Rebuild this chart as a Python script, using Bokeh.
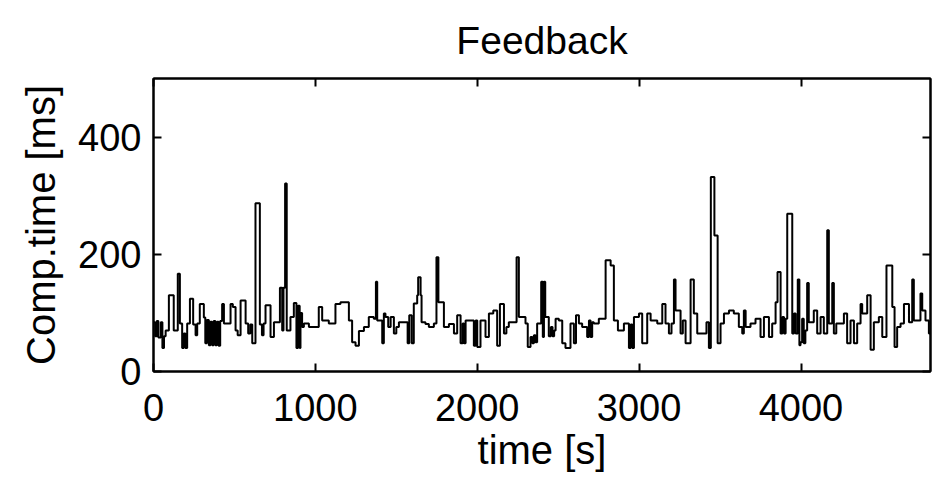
from bokeh.plotting import figure
from bokeh.models import Range1d, LinearAxis, FixedTicker, CustomJSTickFormatter
from bokeh.embed import file_html
from bokeh.resources import INLINE

# step start times [s] and computation times [ms]
time_s = [0, 10, 20, 30, 45, 55, 65, 75, 95, 125, 150, 163, 177, 187, 197, 208, 225, 245, 260, 270,
          286, 311, 320, 330, 342, 352, 362, 372, 382, 392, 402, 412, 424, 435, 476, 490, 507, 520, 538, 569,
          585, 598, 610, 630, 657, 670, 680, 692, 723, 744, 781, 795, 803, 813, 823,
          846, 867, 883, 893, 903, 908, 918, 929, 960, 1021, 1042, 1083, 1124, 1155, 1207, 1227, 1248, 1269,
          1300, 1330, 1361, 1374, 1382, 1413, 1423, 1433, 1450, 1465, 1485, 1500, 1516, 1570, 1580, 1595, 1608,
          1629, 1635, 1650, 1656, 1680, 1701, 1732, 1748, 1760, 1794, 1825, 1856, 1876, 1897, 1910, 1918, 1928,
          1979, 1990, 2000, 2020, 2051, 2072, 2099, 2123, 2140, 2165, 2180, 2195, 2243, 2257, 2298, 2312, 2329,
          2340, 2350, 2360, 2370, 2395, 2405, 2412,
          2420, 2442, 2455, 2465, 2475, 2484, 2504, 2525, 2545, 2576, 2597, 2610, 2628, 2648, 2679, 2690, 2700,
          2710, 2720, 2751, 2793, 2824, 2844, 2869, 2906, 2937, 2948, 2958, 2968, 2999, 3019, 3050, 3071, 3112,
          3143, 3163, 3184,
          3200, 3215, 3225, 3256, 3270, 3287, 3318, 3338, 3359, 3416, 3431, 3443, 3465, 3485, 3503, 3524, 3555,
          3585, 3616, 3637, 3647, 3658, 3688, 3719, 3750, 3771, 3802, 3822, 3843, 3855, 3874, 3885, 3895, 3905,
          3915, 3946, 3957, 3967, 3980, 3990,
          3997, 4007, 4017, 4027, 4038, 4048, 4079, 4100, 4121, 4141, 4162, 4172, 4193, 4203, 4218, 4265, 4285,
          4306, 4327, 4347, 4368, 4378, 4409, 4430, 4450, 4481, 4502, 4528, 4564, 4578, 4594, 4615, 4636, 4667,
          4687, 4697, 4738, 4749, 4769, 4790, 4800]
comp_ms = [84, 60, 86, 58, 84, 40, 60, 70, 130, 70, 167, 82, 40, 65, 40, 82, 124, 80, 62, 82,
           115, 92, 48, 88, 45, 85, 45, 86, 45, 85, 44, 86, 115, 82, 115, 110, 70, 62, 121, 82,
           65, 80, 48, 287, 80, 62, 82, 113, 59, 84, 143, 70, 143, 321, 70,
           93, 117, 40, 112, 40, 100, 76, 82, 76, 110, 87, 82, 115, 118, 87, 50, 44, 69,
           76, 93, 90, 153, 87, 48, 99, 93, 76, 93, 65, 76, 84, 48, 96, 48, 116,
           130, 161, 130, 84, 81, 76, 82, 195, 118, 76, 81, 65, 96, 48, 82, 48, 87,
           44, 87, 42, 87, 59, 99, 104, 44, 115, 65, 76, 84, 195, 93, 82, 42, 59,
           48, 62, 50, 82, 153, 59, 153,
           93, 60, 76, 60, 70, 90, 87, 48, 40, 82, 48, 96, 82, 76, 59, 87, 59,
           84, 82, 90, 190, 181, 87, 70, 82, 40, 80, 40, 93, 99, 48, 99, 87, 82,
           115, 82, 65,
           82, 157, 104, 65, 87, 48, 157, 99, 65, 84, 40, 332, 232, 48, 82, 99, 104,
           99, 76, 65, 104, 76, 82, 90, 59, 93, 59, 82, 118, 170, 65, 93, 65, 90,
           269, 65, 99, 65, 157, 45,
           50, 90, 48, 70, 151, 84, 104, 65, 93, 65, 241, 82, 151, 65, 82, 99, 48,
           87, 48, 82, 115, 99, 130, 37, 84, 93, 59, 181, 110, 42, 76, 82, 115, 84,
           157, 87, 133, 104, 87, 65, 65]

x_ticks = [0, 1000, 2000, 3000, 4000]
y_ticks = [0, 200, 400]

FONT = "Liberation Sans"

p = figure(width=932, height=479, output_backend="svg", toolbar_location=None,
           x_range=Range1d(0, 4800), y_range=Range1d(0, 500),
           min_border_left=153, min_border_right=2, min_border_top=78, min_border_bottom=108,
           background_fill_color="white", border_fill_color="white")

p.title.text = "Feedback"
p.title.text_font = FONT
p.title.text_font_size = "39px"
p.title.text_font_style = "normal"
p.title.align = "center"
p.title.vertical_align = "top"
p.title.text_line_height = 0.6
p.title.text_color = "black"
p.title.standoff = 30

p.xgrid.visible = False
p.ygrid.visible = False
p.outline_line_color = "black"
p.outline_line_width = 2

p.xaxis.ticker = FixedTicker(ticks=x_ticks)
p.yaxis.ticker = FixedTicker(ticks=y_ticks)
p.xaxis.axis_label = "time [s]"
p.yaxis.axis_label = "Comp.time [ms]"

for ax in p.xaxis + p.yaxis:
    ax.major_tick_in = 8
    ax.major_tick_out = 0
    ax.minor_tick_in = 0
    ax.minor_tick_out = 0
    ax.axis_line_width = 2
    ax.axis_line_color = "black"
    ax.major_tick_line_width = 2
    ax.major_tick_line_color = "black"
    ax.major_label_text_font = FONT
    ax.major_label_text_font_size = "38px"
    ax.major_label_text_color = "black"
    ax.axis_label_text_font = FONT
    ax.axis_label_text_font_size = "40px"
    ax.axis_label_text_font_style = "normal"
    ax.axis_label_text_color = "black"

p.xaxis.major_label_standoff = 22
p.xaxis.axis_label_standoff = 4
p.yaxis.major_label_standoff = 12
p.yaxis.axis_label_standoff = 12

empty = CustomJSTickFormatter(code="return ''")
top = LinearAxis(ticker=FixedTicker(ticks=x_ticks), formatter=empty,
                 major_tick_in=8, major_tick_out=0, minor_tick_in=0, minor_tick_out=0,
                 axis_line_width=2, major_tick_line_width=2, major_label_standoff=0,
                 major_label_text_font_size="1px")
right = LinearAxis(ticker=FixedTicker(ticks=y_ticks), formatter=empty,
                   major_tick_in=8, major_tick_out=0, minor_tick_in=0, minor_tick_out=0,
                   axis_line_width=2, major_tick_line_width=2, major_label_standoff=0,
                   major_label_text_font_size="1px")
p.add_layout(top, "above")
p.add_layout(right, "right")

p.step(time_s, comp_ms, mode="after", line_color="black", line_width=2)

open("out.html", "w").write(file_html(p, INLINE))
